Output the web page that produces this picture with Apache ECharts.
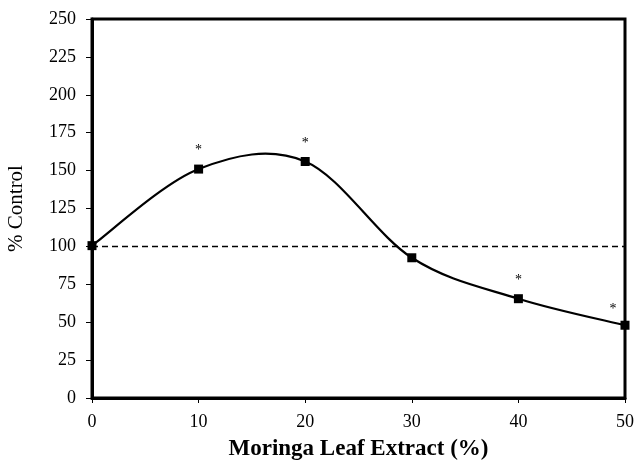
<!DOCTYPE html>
<html><head><meta charset="utf-8">
<script src="https://cdn.jsdelivr.net/npm/echarts@6/dist/echarts.min.js"></script>
<style>html,body{margin:0;padding:0;background:#fff}#c{width:638px;height:462px}</style>
</head><body><div id="c"></div>
<script>
var concentrations = [0, 10, 20, 30, 40, 50];
var percentControl = [100.5, 151, 156, 92.5, 65.5, 48];
var significance = ['', '*', '*', '', '*', '*'];
var controlLevel = 100;
var yTicks = [0, 25, 50, 75, 100, 125, 150, 175, 200, 225, 250];
var xTicks = [0, 10, 20, 30, 40, 50];

var font = '"Liberation Serif", "Times New Roman", serif';
var chart = echarts.init(document.getElementById('c'));
var n = concentrations.length;
var data = concentrations.map(function (x, i) {
  var d = { value: [x, percentControl[i]] };
  if (significance[i]) {
    d.label = { show: true, formatter: significance[i], position: 'top', distance: 7,
      offset: i === n - 1 ? [-12, 3] : [0, 0] };
  }
  return d;
});
// Excel-style smoothed line segments (cardinal spline, control offset 1/6)
var segments = concentrations.slice(0, n - 1).map(function (x, i) {
  return [x, percentControl[i], i];
});
function renderSegment(params, api) {
  var i = api.value(2);
  function P(k) {
    k = Math.max(0, Math.min(n - 1, k));
    return api.coord([concentrations[k], percentControl[k]]);
  }
  var p0 = P(i - 1), p1 = P(i), p2 = P(i + 1), p3 = P(i + 2);
  return {
    type: 'bezierCurve',
    shape: {
      x1: p1[0], y1: p1[1], x2: p2[0], y2: p2[1],
      cpx1: p1[0] + (p2[0] - p0[0]) / 6, cpy1: p1[1] + (p2[1] - p0[1]) / 6,
      cpx2: p2[0] - (p3[0] - p1[0]) / 6, cpy2: p2[1] - (p3[1] - p1[1]) / 6
    },
    style: { stroke: '#000', lineWidth: 2.2, fill: null }
  };
}
chart.setOption({
  animation: false,
  backgroundColor: '#fff',
  grid: { left: 92, right: 13, top: 19, bottom: 64, show: true, borderColor: '#000', borderWidth: 3,
    containLabel: false, outerBoundsMode: 'none' },
  xAxis: {
    type: 'value', min: xTicks[0], max: xTicks[xTicks.length - 1], interval: 10,
    name: 'Moringa Leaf Extract (%)', nameLocation: 'middle', nameGap: 40,
    nameTextStyle: { fontFamily: font, fontSize: 23, fontWeight: 'bold', color: '#000' },
    axisLine: { show: true, lineStyle: { color: '#000', width: 3 } },
    axisTick: { show: true, length: 5, lineStyle: { color: '#000', width: 1 } },
    axisLabel: { fontFamily: font, fontSize: 18, color: '#000', margin: 15 },
    splitLine: { show: false }
  },
  yAxis: {
    type: 'value', min: yTicks[0], max: yTicks[yTicks.length - 1], interval: 25,
    name: '% Control', nameLocation: 'middle', nameGap: 65,
    nameTextStyle: { fontFamily: font, fontSize: 21, color: '#000' },
    axisLine: { show: true, lineStyle: { color: '#000', width: 3 } },
    axisTick: { show: true, length: 6, lineStyle: { color: '#000', width: 1 } },
    axisLabel: { fontFamily: font, fontSize: 18, color: '#000', margin: 16 },
    splitLine: { show: false }
  },
  series: [{
    type: 'custom', data: segments, renderItem: renderSegment,
    encode: { x: 0, y: 1 }, clip: false, silent: true, z: 2
  }, {
    type: 'line', data: data,
    symbol: 'rect', symbolSize: 9, clip: false,
    itemStyle: { color: '#000' },
    lineStyle: { width: 0, opacity: 0 },
    label: { show: false, color: '#000', fontFamily: font, fontSize: 14 },
    markLine: {
      silent: true, symbol: ['none', 'none'], label: { show: false },
      lineStyle: { color: '#000', type: [6, 4], width: 1.3 },
      data: [{ yAxis: controlLevel }]
    },
    z: 3
  }]
});
</script></body></html>
